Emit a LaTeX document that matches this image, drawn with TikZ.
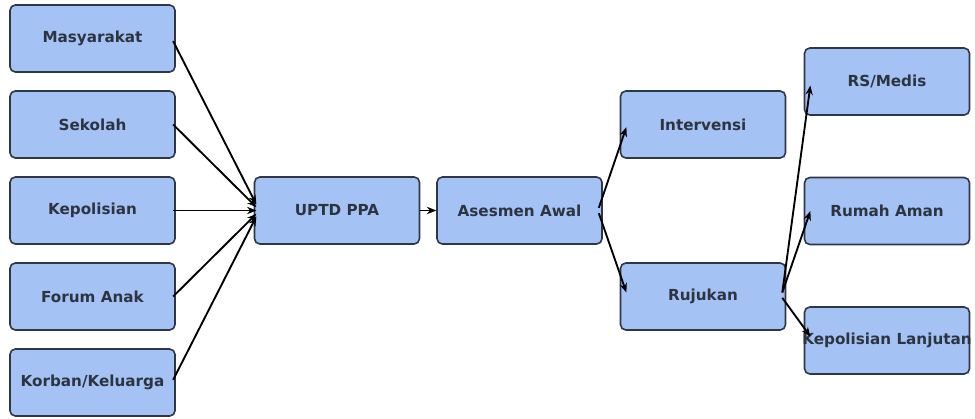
\documentclass[tikz,border=0pt]{standalone}
\usepackage{fontspec}
\setmainfont{DejaVu Sans}
\usepackage{tikz}
\usetikzlibrary{arrows.meta}
\definecolor{boxfill}{RGB}{164,194,244}
\definecolor{boxline}{RGB}{45,55,70}
\definecolor{boxtext}{RGB}{45,52,64}
\tikzset{
    flowbox/.style={draw=boxline,line width=1.2pt,fill=boxfill,rounded corners=4pt,
        minimum width=123.75pt,minimum height=50.25pt,inner sep=0pt,
        text=boxtext,font=\fontsize{11.4}{13}\selectfont\bfseries},
    arr/.style={-{Stealth[length=7pt,width=5.5pt]},line width=1.4pt,black}
}

\begin{document}
\begin{tikzpicture}[x=0.75pt,y=-0.75pt]
    \useasboundingbox (0,0) rectangle (975,418);
    % sumber laporan
    \node[flowbox] (masy) at (92.5,38.5) {Masyarakat};
    \node[flowbox] (sek) at (92.5,124.5) {Sekolah};
    \node[flowbox] (kep) at (92.5,210.5) {Kepolisian};
    \node[flowbox] (forum) at (92.5,296.5) {Forum Anak};
    \node[flowbox] (korban) at (92.5,382.5) {Korban/Keluarga};
    % layanan
    \node[flowbox] (uptd) at (337,210.5) {UPTD PPA};
    \node[flowbox] (ases) at (519.5,210.5) {Asesmen Awal};
    \node[flowbox] (interv) at (703,124.5) {Intervensi};
    \node[flowbox] (ruj) at (703,296.5) {Rujukan};
    % rujukan lanjut
    \node[flowbox] (rs) at (887,81.5) {RS/Medis};
    \node[flowbox] (rumah) at (887,211) {Rumah Aman};
    \node[flowbox] (kepl) at (887,340.5) {\makebox[0pt]{Kepolisian Lanjutan}};

    \draw[arr] ([xshift=-2pt,yshift=-2pt]masy.east) -- ([xshift=2pt,yshift=4.5pt]uptd.west);
    \draw[arr] ([xshift=-2pt]sek.east) -- ([xshift=2pt,yshift=2.5pt]uptd.west);
    \draw[arr] ([xshift=-2pt]kep.east) -- ([xshift=2pt]uptd.west);
    \draw[arr] ([xshift=-2pt]forum.east) -- ([xshift=2pt,yshift=-2.5pt]uptd.west);
    \draw[arr] ([xshift=-2pt,yshift=2pt]korban.east) -- ([xshift=2pt,yshift=-4.5pt]uptd.west);
    \draw[arr] (uptd.east) -- (ases.west);
    \draw[arr] ([xshift=-3pt,yshift=2pt]ases.east) -- ([xshift=5pt,yshift=-2pt]interv.west);
    \draw[arr] ([xshift=-3pt,yshift=-2pt]ases.east) -- ([xshift=5pt,yshift=3pt]ruj.west);
    \draw[arr] ([xshift=-3pt,yshift=3pt]ruj.east) -- ([xshift=5pt,yshift=-3pt]rs.west);
    \draw[arr] ([xshift=-3pt,yshift=3pt]ruj.east) -- ([xshift=5pt]rumah.west);
    \draw[arr] ([xshift=-3pt,yshift=-1pt]ruj.east) -- ([xshift=5pt,yshift=3pt]kepl.west);
\end{tikzpicture}
\end{document}
